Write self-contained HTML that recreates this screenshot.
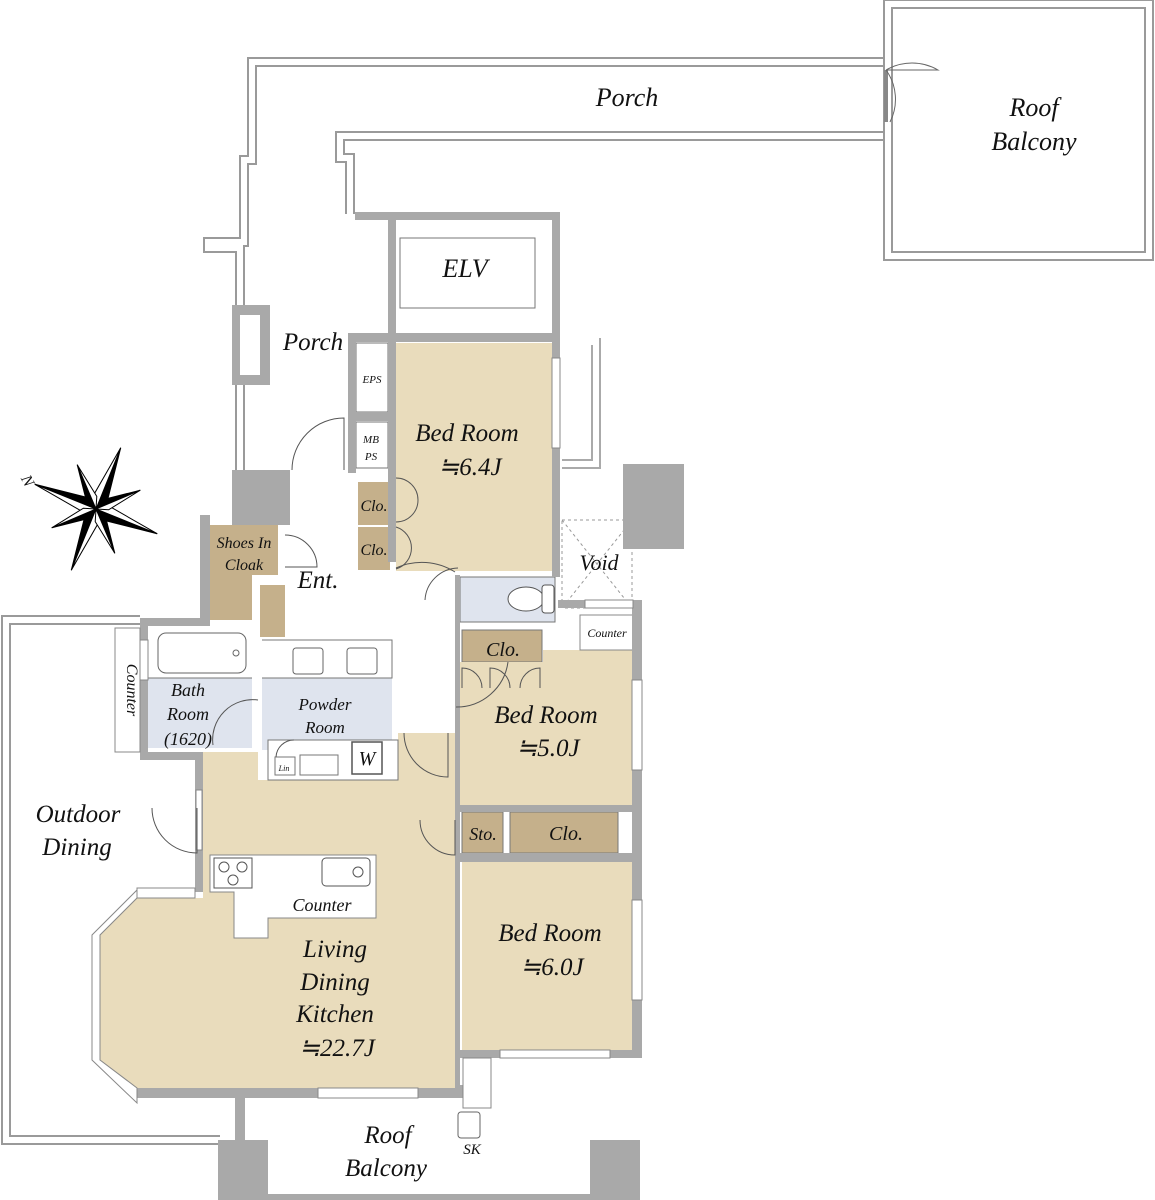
<!DOCTYPE html>
<html><head><meta charset="utf-8"><style>
html,body{margin:0;padding:0;background:#fff;}
svg{display:block;}
text{font-family:"Liberation Serif",serif;font-style:italic;fill:#111;}
</style></head><body>
<svg width="1155" height="1200" viewBox="0 0 1155 1200" xmlns="http://www.w3.org/2000/svg">
<g fill="none" stroke-linejoin="miter">
<path d="M240 472 L240 248 L208 248 L208 242 L244 242 L244 160 L252 160 L252 62 L886 62" stroke="#9a9a9a" stroke-width="10"/>
<path d="M240 472 L240 248 L208 248 L208 242 L244 242 L244 160 L252 160 L252 62 L886 62" stroke="#fff" stroke-width="6"/>
<path d="M886 136 L340 136 L340 158 L350 158 L350 214" stroke="#9a9a9a" stroke-width="10"/>
<path d="M886 136 L340 136 L340 158 L350 158 L350 214" stroke="#fff" stroke-width="6"/>
<rect x="888" y="4" width="261" height="252" stroke="#9a9a9a" stroke-width="10"/>
<rect x="888" y="4" width="261" height="252" stroke="#fff" stroke-width="6"/>
<path d="M140 620 L6 620 L6 1140 L220 1140" stroke="#9a9a9a" stroke-width="10"/>
<path d="M140 620 L6 620 L6 1140 L220 1140" stroke="#fff" stroke-width="6"/>
<path d="M600 338 L600 468 L562 468 M592 345 L592 460 L562 460" stroke="#aaa" stroke-width="2"/>
</g>
<path d="M886 70 L886 122" stroke="#888" stroke-width="4"/>
<path d="M886 70 A52 52 0 0 1 938 70 L886 70 M886 70 A50 50 0 0 1 890 122" fill="none" stroke="#666" stroke-width="1"/>

<rect x="396" y="343" width="156" height="228" fill="#e9dcbc"/>
<rect x="358" y="482" width="32" height="43" fill="#c5b08b"/>
<rect x="358" y="527" width="32" height="43" fill="#c5b08b"/>
<path d="M210 525 L278 525 L278 575 L252 575 L252 620 L210 620 Z" fill="#c5b08b"/>
<rect x="260" y="585" width="25" height="52" fill="#c5b08b"/>
<rect x="460" y="577" width="95" height="45" fill="#dfe4ee" stroke="#777" stroke-width="1"/>
<rect x="462" y="630" width="80" height="32" fill="#c5b08b" stroke="#777" stroke-width="1"/>
<path d="M460 662 L543 662 L543 650 L632 650 L632 805 L460 805 Z" fill="#e9dcbc"/>
<rect x="462" y="812" width="41" height="41" fill="#c5b08b" stroke="#777" stroke-width="1"/>
<rect x="510" y="812" width="108" height="41" fill="#c5b08b" stroke="#777" stroke-width="1"/>
<rect x="462" y="862" width="171" height="188" fill="#e9dcbc"/>
<path d="M203 752 L258 752 L258 780 L398 780 L398 733 L455 733 L455 1088 L137 1088 L100 1060 L100 935 L137 898 L203 898 Z" fill="#e9dcbc"/>
<rect x="148" y="678" width="104" height="70" fill="#dfe4ee"/>
<rect x="262" y="678" width="130" height="72" fill="#dfe4ee"/>
<rect x="158" y="633" width="88" height="40" rx="8" fill="#fff" stroke="#666"/>
<circle cx="236" cy="653" r="3" fill="none" stroke="#666"/>
<path d="M148 678 L252 678 M262 640 L392 640 L392 678 L262 678" stroke="#777" fill="none"/>
<rect x="293" y="648" width="30" height="26" rx="3" fill="#fff" stroke="#666"/>
<rect x="347" y="648" width="30" height="26" rx="3" fill="#fff" stroke="#666"/>
<rect x="268" y="740" width="130" height="40" fill="#fff" stroke="#777"/>
<rect x="275" y="757" width="20" height="18" fill="#fff" stroke="#777"/>
<rect x="300" y="755" width="38" height="20" fill="#fff" stroke="#777"/>
<rect x="352" y="742" width="30" height="32" fill="#fff" stroke="#555" stroke-width="1.5"/>
<path d="M210 855 L376 855 L376 918 L268 918 L268 938 L234 938 L234 892 L210 892 Z" fill="#fff" stroke="#888"/>
<rect x="214" y="858" width="38" height="30" fill="#fff" stroke="#555"/>
<circle cx="224" cy="867" r="5" fill="none" stroke="#555"/><circle cx="242" cy="867" r="5" fill="none" stroke="#555"/><circle cx="233" cy="880" r="5" fill="none" stroke="#555"/>
<rect x="322" y="858" width="48" height="28" rx="4" fill="#fff" stroke="#555"/>
<circle cx="358" cy="872" r="5" fill="none" stroke="#555"/>
<rect x="400" y="238" width="135" height="70" fill="#fff" stroke="#777"/>
<rect x="356" y="343" width="32" height="69" fill="#fff" stroke="#777"/>
<rect x="356" y="422" width="32" height="46" fill="#fff" stroke="#777"/>
<rect x="562" y="520" width="70" height="88" fill="none" stroke="#999" stroke-dasharray="3,3"/>
<path d="M562 520 L632 608 M632 520 L562 608" stroke="#999" stroke-dasharray="3,3"/>
<rect x="580" y="615" width="53" height="35" fill="#fff" stroke="#888"/>
<ellipse cx="526" cy="599" rx="18" ry="12" fill="#fff" stroke="#555"/>
<rect x="542" y="585" width="12" height="28" rx="3" fill="#fff" stroke="#555"/>

<g fill="#a9a9a9">
<rect x="355" y="212" width="205" height="8"/>
<rect x="552" y="212" width="8" height="365"/>
<rect x="388" y="212" width="8" height="350"/>
<rect x="348" y="333" width="212" height="9"/>
<rect x="348" y="333" width="8" height="140"/>
<rect x="348" y="412" width="48" height="9"/>
<rect x="232" y="470" width="58" height="55"/>
<rect x="200" y="515" width="10" height="110"/>
<rect x="140" y="618" width="70" height="8"/>
<rect x="140" y="618" width="8" height="142"/>
<rect x="140" y="752" width="63" height="8"/>
<rect x="195" y="752" width="8" height="140"/>
<rect x="623" y="464" width="61" height="85"/>
<rect x="632" y="600" width="10" height="455"/>
<rect x="455" y="575" width="5" height="515"/>
<rect x="558" y="600" width="30" height="8"/>
<rect x="455" y="1085" width="8" height="10"/>
<rect x="137" y="1088" width="326" height="10"/>
<rect x="460" y="1050" width="182" height="8"/>
<rect x="460" y="805" width="175" height="7"/>
<rect x="460" y="853" width="175" height="9"/>
<rect x="218" y="1140" width="50" height="60"/>
<rect x="590" y="1140" width="50" height="60"/>
<rect x="235" y="1098" width="10" height="42"/>
<rect x="268" y="1194" width="322" height="6"/>
<rect x="232" y="305" width="38" height="80"/>
</g>
<rect x="240" y="315" width="20" height="60" fill="#fff"/>
<g fill="#fff" stroke="#888">
<rect x="552" y="358" width="8" height="90"/>
<rect x="632" y="680" width="10" height="90"/>
<rect x="632" y="900" width="10" height="100"/>
<rect x="500" y="1050" width="110" height="8"/>
<rect x="318" y="1088" width="100" height="10"/>
<rect x="140" y="640" width="8" height="40"/>
<rect x="196" y="790" width="6" height="60"/>
<rect x="585" y="600" width="48" height="8"/>
</g>
<path d="M137 890 L92 935 L92 1060 L137 1103 L137 1088 L100 1060 L100 935 L137 898 Z" fill="#fff" stroke="#888"/>
<rect x="137" y="888" width="58" height="10" fill="#fff" stroke="#888"/>
<path d="M115 628 L140 628 L140 752 L115 752 L115 740 Z" fill="#fff" stroke="#888"/>
<rect x="463" y="1058" width="28" height="50" fill="#fff" stroke="#888"/>
<rect x="458" y="1112" width="22" height="26" rx="3" fill="#fff" stroke="#666"/>
<g fill="none" stroke="#555" stroke-width="1">
<path d="M292 470 A52 52 0 0 1 344 418 L344 470"/>
<path d="M285 535 A32 32 0 0 1 317 567 L285 567"/>
<path d="M396 478 A22 22 0 0 1 396 522 M396 527 A22 22 0 0 1 396 569"/>
<path d="M396 568 A62 62 0 0 1 455 572"/>
<path d="M425 600 A34 34 0 0 1 458 568"/>
<path d="M404 733 A44 44 0 0 0 448 777 L448 733"/>
<path d="M420 820 A35 35 0 0 0 455 855 L455 820"/>
<path d="M152 808 A45 45 0 0 0 197 853 L197 808"/>
<path d="M213 745 A40 40 0 0 1 258 700"/>
<path d="M462 688 L462 668 A20 20 0 0 1 482 688 M490 688 L490 668 A20 20 0 0 1 510 688 M540 688 L540 668 A20 20 0 0 0 520 688 M456 707 A52 52 0 0 0 508 662"/>
<path d="M276 757 A18 18 0 0 1 294 740"/>
</g>
<g transform="translate(96,509) rotate(22)">
<g stroke="#000" stroke-width="1">
<path d="M0 0 L0 -66 L8 -8 Z" fill="#000"/><path d="M0 0 L0 -66 L-8 -8 Z" fill="#fff"/>
<path d="M0 0 L66 0 L8 8 Z" fill="#000"/><path d="M0 0 L66 0 L8 -8 Z" fill="#fff"/>
<path d="M0 0 L0 66 L-8 8 Z" fill="#000"/><path d="M0 0 L0 66 L8 8 Z" fill="#fff"/>
<path d="M0 0 L-66 0 L-8 -8 Z" fill="#000"/><path d="M0 0 L-66 0 L-8 8 Z" fill="#fff"/>
<path d="M0 0 L34 -34 L4 -12 Z" fill="#000"/><path d="M0 0 L34 -34 L12 -4 Z" fill="#fff"/>
<path d="M0 0 L34 34 L12 4 Z" fill="#000"/><path d="M0 0 L34 34 L4 12 Z" fill="#fff"/>
<path d="M0 0 L-34 34 L-4 12 Z" fill="#000"/><path d="M0 0 L-34 34 L-12 4 Z" fill="#fff"/>
<path d="M0 0 L-34 -34 L-12 -4 Z" fill="#000"/><path d="M0 0 L-34 -34 L-4 -12 Z" fill="#fff"/>
</g></g>
<text x="22" y="484" font-size="16" transform="rotate(62 26 480)">N</text>

<g text-anchor="middle">
<text x="627" y="106" font-size="26">Porch</text>
<text x="1034" y="116" font-size="26">Roof</text>
<text x="1034" y="150" font-size="26">Balcony</text>
<text x="465" y="277" font-size="26">ELV</text>
<text x="313" y="350" font-size="25">Porch</text>
<text x="372" y="383" font-size="11">EPS</text>
<text x="371" y="443" font-size="11">MB</text>
<text x="371" y="460" font-size="11">PS</text>
<text x="467" y="441" font-size="25">Bed Room</text>
<text x="470" y="475" font-size="25">≒6.4J</text>
<text x="374" y="511" font-size="16">Clo.</text>
<text x="374" y="555" font-size="16">Clo.</text>
<text x="244" y="548" font-size="16">Shoes In</text>
<text x="244" y="570" font-size="16">Cloak</text>
<text x="318" y="588" font-size="25">Ent.</text>
<text x="599" y="570" font-size="22">Void</text>
<text x="607" y="637" font-size="12">Counter</text>
<text x="503" y="656" font-size="20">Clo.</text>
<text x="546" y="723" font-size="25">Bed Room</text>
<text x="548" y="756" font-size="25">≒5.0J</text>
<text x="483" y="840" font-size="18">Sto.</text>
<text x="566" y="840" font-size="20">Clo.</text>
<text x="550" y="941" font-size="25">Bed Room</text>
<text x="552" y="975" font-size="25">≒6.0J</text>
<text x="188" y="696" font-size="18">Bath</text>
<text x="188" y="720" font-size="18">Room</text>
<text x="188" y="745" font-size="18">(1620)</text>
<text x="325" y="710" font-size="17">Powder</text>
<text x="325" y="733" font-size="17">Room</text>
<text x="367" y="765" font-size="20">W</text>
<text x="284" y="771" font-size="8">Lin</text>
<text x="78" y="822" font-size="25">Outdoor</text>
<text x="77" y="855" font-size="25">Dining</text>
<text x="322" y="911" font-size="18">Counter</text>
<text x="335" y="957" font-size="25">Living</text>
<text x="335" y="990" font-size="25">Dining</text>
<text x="335" y="1022" font-size="25">Kitchen</text>
<text x="337" y="1056" font-size="25">≒22.7J</text>
<text x="388" y="1143" font-size="25">Roof</text>
<text x="386" y="1176" font-size="25">Balcony</text>
<text x="472" y="1154" font-size="15">SK</text>
<text x="127" y="690" font-size="16" transform="rotate(90 127 690)">Counter</text>
</g>
</svg>
</body></html>
